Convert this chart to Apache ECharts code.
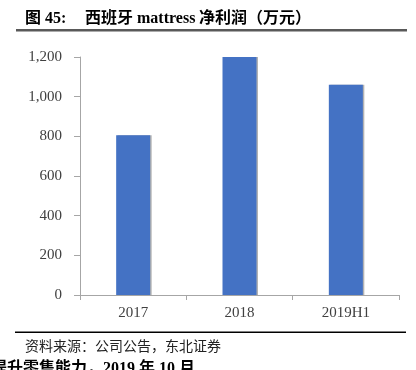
<!DOCTYPE html>
<html><head><meta charset="utf-8">
<script src="https://cdn.jsdelivr.net/npm/echarts@6/dist/echarts.min.js"></script>
<style>html,body{margin:0;padding:0;background:#fff}#c{width:416px;height:370px}</style>
</head><body><div id="c"></div>
<script>
var categories = ['2017', '2018', '2019H1'];
var netProfit = [805, 1200, 1060];
var yTicks = [0, 200, 400, 600, 800, 1000, 1200];

var chart = echarts.init(document.getElementById('c'), null, {renderer: 'canvas'});
var latin = '"Liberation Serif", "Times New Roman", serif';
var cjk = '"Liberation Serif", "Noto Sans CJK SC", serif';
function txt(x, y, s, size, bold, fill) {
  return {type: 'text', x: x, y: y, style: {text: s, fontFamily: cjk, fontSize: size,
    fontWeight: bold ? 'bold' : 'normal', fill: fill, textVerticalAlign: 'middle', textAlign: 'left'}};
}
chart.setOption({
  animation: false,
  backgroundColor: '#fff',
  grid: {left: 80, right: 17, top: 57, bottom: 75},
  xAxis: {
    type: 'category', data: categories,
    axisLine: {lineStyle: {color: '#a6a6a6', width: 1}},
    axisTick: {show: true, length: 5, alignWithLabel: false, lineStyle: {color: '#a6a6a6'}},
    axisLabel: {color: '#404040', fontFamily: latin, fontSize: 15, margin: 11}
  },
  yAxis: {
    type: 'value', min: yTicks[0], max: yTicks[yTicks.length - 1], interval: 200,
    axisLine: {show: true, lineStyle: {color: '#a6a6a6', width: 1}},
    axisTick: {show: true, length: 6, lineStyle: {color: '#a6a6a6'}},
    splitLine: {show: false},
    axisLabel: {color: '#404040', fontFamily: latin, fontSize: 15, margin: 18,
      formatter: function (v) { return v.toLocaleString('en-US'); }}
  },
  series: [{
    type: 'bar', data: netProfit, barWidth: 34,
    itemStyle: {color: '#4472C4', shadowColor: 'rgba(0,0,0,0.3)', shadowOffsetX: 1.5, shadowBlur: 0}
  }],
  graphic: [
    txt(25, 19, '图', 16, true, '#000'),
    txt(45, 19, '45:', 16, true, '#000'),
    txt(85, 19, '西班牙', 16, true, '#000'),
    txt(137, 19, 'mattress', 16, true, '#000'),
    txt(199, 19, '净利润（万元）', 16, true, '#000'),
    {type: 'rect', shape: {x: 16, y: 29, width: 391, height: 2.5}, style: {fill: '#595959'}},
    {type: 'rect', shape: {x: 15, y: 331.5, width: 391, height: 1.5}, style: {fill: '#000'}},
    txt(25, 347, '资料来源：公司公告，东北证券', 14, false, '#222'),
    txt(-9, 369, '提升零售能力，2019 年 10 月', 16, true, '#000')
  ]
});
</script></body></html>
